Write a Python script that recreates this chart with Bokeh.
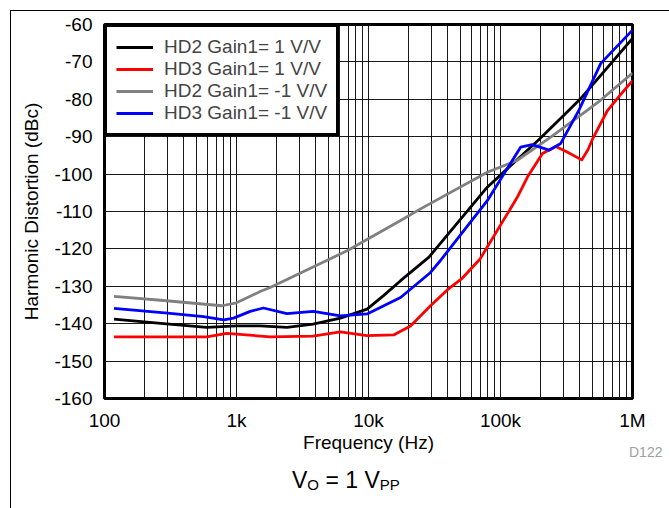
from bokeh.plotting import figure
from bokeh.models import FixedTicker, Div
from bokeh.layouts import column
from bokeh.embed import file_html
from bokeh.resources import INLINE

FONT = "Liberation Sans"

# ---- data ----
x_major = [100, 1000, 10000, 100000, 1000000]
x_labels = ["100", "1k", "10k", "100k", "1M"]
y_ticks = [-160, -150, -140, -130, -120, -110, -100, -90, -80, -70, -60]
y_labels = ["-160", "-150", "-140", "-130", "-120", "-110", "-100", "-90",
            "-80", "-70", "-60"]

series_names = ["HD2 Gain1= 1 V/V", "HD3 Gain1= 1 V/V",
                "HD2 Gain1= -1 V/V", "HD3 Gain1= -1 V/V"]
series_colors = ["#000000", "#ff0000", "#808080", "#0000ff"]

hd2_g1_f = [118, 280, 596, 1000, 1510, 2410, 3800, 6120, 9750, 13000, 17500,
            28700, 79400, 195000, 330000, 405000, 1000000]
hd2_g1_v = [-138.8, -140.0, -141.0, -140.6, -140.6, -141.0, -140.1, -138.5,
            -136.1, -132.5, -128.5, -122.2, -103.5, -90.8, -82.9, -79.8, -63.7]

hd3_g1_f = [118, 596, 846, 1800, 3800, 6120, 9750, 15500, 20800, 29500, 40600,
            51500, 70000, 134000, 160000, 208000, 262000, 320000, 383000,
            412000, 460000, 500000, 646000, 800000, 1000000]
hd3_g1_v = [-143.5, -143.5, -142.6, -143.5, -143.3, -142.2, -143.2, -143.0,
            -140.6, -135.2, -130.6, -127.8, -122.7, -106.2, -100.8, -94.5,
            -92.6, -94.1, -95.6, -96.2, -93.5, -90.5, -83.0, -79.0, -75.0]

hd2_gm1_f = [118, 280, 775, 1000, 1510, 1800, 6880, 17500, 24800, 79400,
             134000, 240000, 456000, 575000, 1000000]
hd2_gm1_v = [-132.7, -133.8, -135.2, -134.4, -131.4, -130.3, -120.5, -112.4,
             -109.3, -99.5, -96.3, -90.1, -82.9, -80.2, -73.0]

hd3_gm1_f = [118, 300, 562, 800, 950, 1270, 1600, 2410, 3820, 6120, 9750,
             17500, 29500, 35100, 79400, 142000, 174000, 233000, 286000,
             393000, 575000, 1000000]
hd3_gm1_v = [-135.9, -137.2, -138.1, -139.0, -138.5, -136.7, -135.8, -137.3,
             -136.7, -137.9, -137.4, -133.0, -126.3, -123.1, -107.1, -92.8,
             -92.1, -93.6, -91.8, -82.9, -70.4, -61.5]

note_html = ("V<span style='font-size:15px;vertical-align:-2px'>O</span>"
             " = 1 V<span style='font-size:15px;vertical-align:-2px'>PP</span>")
code_text = "D122"

# ---- figure ----
p = figure(width=665, height=470, x_axis_type="log",
           x_range=(100, 1000000), y_range=(-160, -60),
           output_backend="svg", toolbar_location=None,
           min_border_left=104, min_border_right=33,
           min_border_top=24, min_border_bottom=72)

p.outline_line_color = "black"
p.outline_line_width = 3
p.background_fill_color = "white"
p.border_fill_color = "white"

minor = [m * d for d in x_major[:-1] for m in range(2, 10)]
p.xaxis.ticker = FixedTicker(ticks=x_major, minor_ticks=minor)
p.yaxis.ticker = FixedTicker(ticks=y_ticks)
p.xaxis.major_label_overrides = {t: l for t, l in zip(x_major, x_labels)}
p.yaxis.major_label_overrides = {t: l for t, l in zip(y_ticks, y_labels)}

for ax in (p.xaxis, p.yaxis):
    ax.axis_line_color = None
    ax.major_tick_line_color = None
    ax.minor_tick_line_color = None
    ax.major_label_text_font = FONT
    ax.major_label_text_font_size = "19px"
    ax.major_label_text_color = "black"
    ax.axis_label_text_font = FONT
    ax.axis_label_text_font_size = "19px"
    ax.axis_label_text_font_style = "normal"
    ax.axis_label_text_color = "black"

p.xaxis.axis_label = "Frequency (Hz)"
p.yaxis.axis_label = "Harmonic Distortion (dBc)"
p.xaxis.major_label_standoff = 5
p.xaxis.axis_label_standoff = -2
p.yaxis.major_label_standoff = 6
p.yaxis.axis_label_standoff = 9

p.xgrid.grid_line_color = "black"
p.xgrid.grid_line_alpha = 0.9
p.xgrid.minor_grid_line_color = "black"
p.xgrid.minor_grid_line_alpha = 0.9
p.ygrid.grid_line_color = "black"
p.ygrid.grid_line_alpha = 0.9

data = [(hd2_g1_f, hd2_g1_v), (hd3_g1_f, hd3_g1_v),
        (hd2_gm1_f, hd2_gm1_v), (hd3_gm1_f, hd3_gm1_v)]
for (f, v), name, col in zip(data, series_names, series_colors):
    p.line(f, v, line_color=col, line_width=2.8, legend_label=name,
           line_join="round")

lg = p.legend[0]
lg.location = "top_left"
lg.margin = 0
lg.padding = 9
lg.spacing = 0
lg.border_line_color = "black"
lg.border_line_alpha = 1.0
lg.border_line_width = 3
lg.background_fill_color = "white"
lg.background_fill_alpha = 1
lg.label_text_font = FONT
lg.label_text_font_size = "19px"
lg.label_height = 22
lg.glyph_height = 22
lg.glyph_width = 37
lg.label_standoff = 11

html = (
    "<div style=\"position:relative;width:665px;height:36px;"
    "font-family:'Liberation Sans',Arial,sans-serif;color:black;\">"
    "<div style='position:absolute;left:5px;top:-465px;width:660px;"
    "height:501px;box-sizing:border-box;border-left:1px solid black;"
    "border-top:1px solid black;pointer-events:none'></div>"
    "<span style='position:absolute;left:624px;top:-33px;font-size:14px;"
    "color:#a0a0a0;white-space:nowrap'>" + code_text + "</span>"
    "<span style='position:absolute;left:287px;top:-8px;font-size:23px;"
    "white-space:nowrap;line-height:26px'>" + note_html + "</span>"
    "</div>"
)
d = Div(text=html, width=665, height=36)

layout = column(p, d, spacing=0)
open("out.html", "w").write(file_html(layout, INLINE))
